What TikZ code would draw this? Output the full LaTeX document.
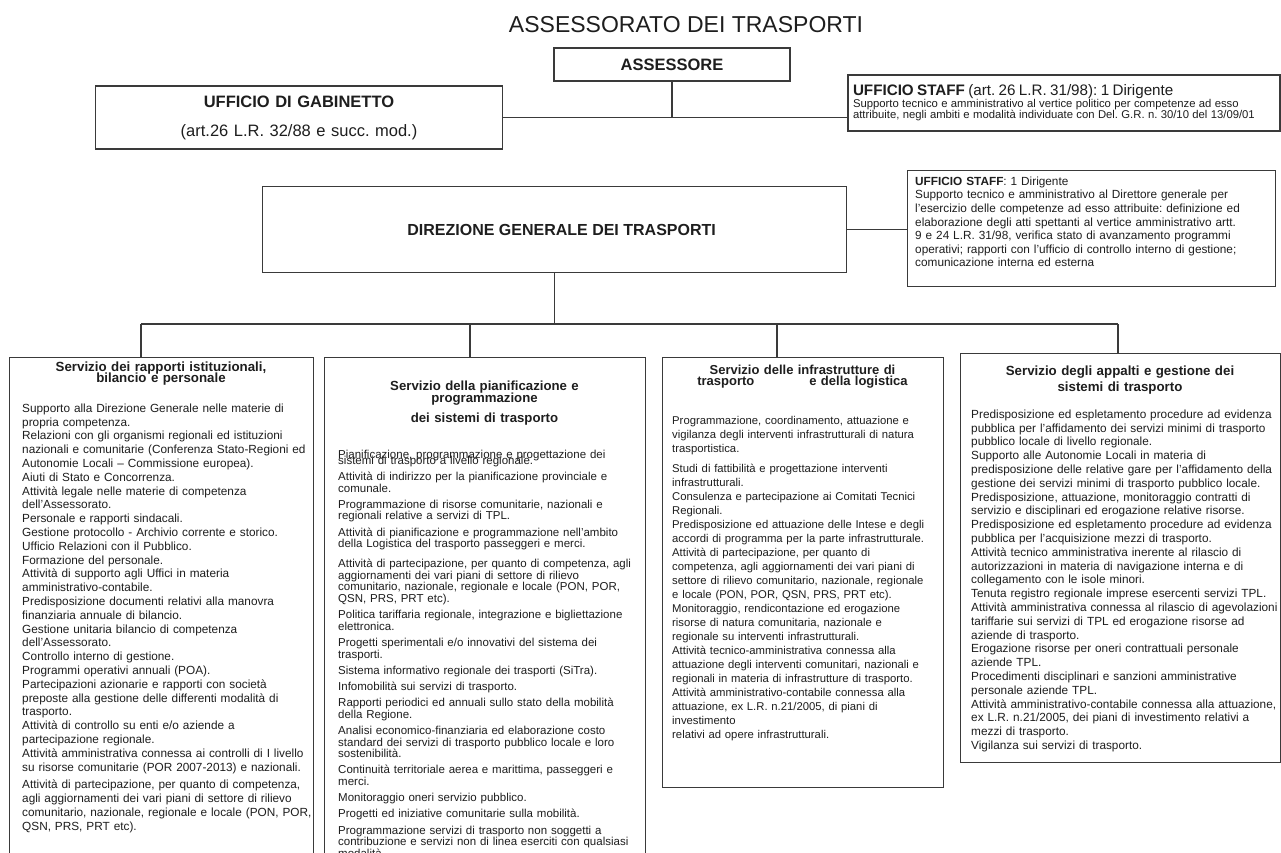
\documentclass[tikz,border=0pt]{standalone}
\usepackage{fontspec}
\setmainfont{Liberation Sans}
\frenchspacing
\definecolor{lc}{HTML}{3A3A3A}
\definecolor{tc}{HTML}{1E1E1E}
\newcommand{\bodyfont}[2]{\fontsize{#1}{#2}\selectfont\frenchspacing\parindent=0pt\lineskiplimit=-20pt\relax}
\newcommand{\headfont}[2]{\fontsize{#1}{#2}\selectfont\bfseries\frenchspacing\parindent=0pt\lineskiplimit=-20pt\relax}
\begin{document}
\begin{tikzpicture}[x=1pt,y=-1pt,
  box/.style={draw=lc, line width=1.2pt, inner sep=0pt, fill=white, text=tc},
  conn/.style={draw=lc, line width=1.2pt},
  txt/.style={inner sep=0pt, text=tc, anchor=north west, align=left},
  head/.style={inner sep=0pt, text=tc, anchor=north, align=center}]
\useasboundingbox[fill=white] (0,0) rectangle (1281,853);

% title
\node[inner sep=0pt, text=tc, font=\fontsize{23}{26}\selectfont] (title) at (686,25) {ASSESSORATO DEI TRASPORTI};

% top level
\node[box, minimum width=236pt, minimum height=33pt, font=\headfont{16.5}{19}] (ass) at (672,64.5) {ASSESSORE};
\node[box, minimum width=407pt, minimum height=63pt, align=center, text width=400pt, font=\fontsize{16.5}{19}\selectfont\frenchspacing] (gab) at (299,117.5)
  {\textbf{UFFICIO DI GABINETTO}\\[10pt](art.26 L.R. 32/88 e succ. mod.)};
\node[box, minimum width=432pt, minimum height=56pt, align=left, text width=422pt, font=\frenchspacing] (st1) at (1064,103)
  {{\fontsize{15.2}{17}\selectfont\textbf{UFFICIO STAFF} (art. 26 L.R. 31/98): 1 Dirigente\par}\vspace{0pt}
   {\fontsize{11.3}{11.5}\selectfont Supporto tecnico e amministrativo al vertice politico per competenze ad esso\\
   attribuite, negli ambiti e modalità individuate con Del. G.R. n. 30/10 del 13/09/01\par}};

% direzione
\node[box, anchor=north west, minimum width=584pt, minimum height=86pt, font=\headfont{16}{19}] (dir) at (262,186) {\hspace*{14pt}DIREZIONE GENERALE DEI TRASPORTI};
\node[box, anchor=north west, minimum width=368pt, minimum height=116pt] (st2) at (907,170) {};
\node[txt, text width=360pt, font=\bodyfont{11.8}{13.6}] (st2t) at (915,176.6)
  {\textbf{UFFICIO STAFF}: 1 Dirigente\\
   Supporto tecnico e amministrativo al Direttore generale per\\
   l’esercizio delle competenze ad esso attribuite: definizione ed\\
   elaborazione degli atti spettanti al vertice amministrativo artt.\\
   9 e 24 L.R. 31/98, verifica stato di avanzamento programmi\\
   operativi; rapporti con l’ufficio di controllo interno di gestione;\\
   comunicazione interna ed esterna};

% column boxes
\node[box, anchor=north west, minimum width=304pt, minimum height=505pt] (c1) at (9,357) {};
\node[box, anchor=north west, minimum width=321pt, minimum height=505pt] (c2) at (324,357) {};
\node[box, anchor=north west, minimum width=281pt, minimum height=430pt] (c3) at (662,357) {};
\node[box, anchor=north west, minimum width=320pt, minimum height=409pt] (c4) at (960,353) {};

% connectors
\coordinate (k1) at (141,324);
\coordinate (k2) at (470,324);
\coordinate (k3) at (777,324);
\coordinate (k4) at (1118,324);
\draw[conn] (ass.south) -- (ass.south |- gab.east);
\draw[conn] (gab.east) -- (gab.east -| st1.west);
\draw[conn] (dir.east) -- (dir.east -| st2.west);
\draw[conn] (dir.south) -- (dir.south |- k1);
\draw[conn] (k1) -- (k4);
\draw[conn] (k1) -- (k1 |- c1.north);
\draw[conn] (k2) -- (k2 |- c2.north);
\draw[conn] (k3) -- (k3 |- c3.north);
\draw[conn] (k4) -- (k4 |- c4.north);

% column 1
\node[head, text width=300pt, font=\headfont{13.3}{11}] (c1h) at (161,362)
  {Servizio dei rapporti istituzionali,\\bilancio e personale};
\node[txt, text width=300pt, font=\bodyfont{11.8}{13.8}] (c1b) at (22,403.6)
  {Supporto alla Direzione Generale nelle materie di\\
   propria competenza.\\
   Relazioni con gli organismi regionali ed istituzioni\\
   nazionali e comunitarie (Conferenza Stato-Regioni ed\\
   Autonomie Locali – Commissione europea).\\
   Aiuti di Stato e Concorrenza.\\
   Attività legale nelle materie di competenza\\
   dell’Assessorato.\\
   Personale e rapporti sindacali.\\
   Gestione protocollo - Archivio corrente e storico.\\
   Ufficio Relazioni con il Pubblico.\\
   Formazione del personale.\\
   Attività di supporto agli Uffici in materia\\
   amministrativo-contabile.\\
   Predisposizione documenti relativi alla manovra\\
   finanziaria annuale di bilancio.\\
   Gestione unitaria bilancio di competenza\\
   dell’Assessorato.\\
   Controllo interno di gestione.\\
   Programmi operativi annuali (POA).\\
   Partecipazioni azionarie e rapporti con società\\
   preposte alla gestione delle differenti modalità di\\
   trasporto.\\
   Attività di controllo su enti e/o aziende a\\
   partecipazione regionale.\\
   Attività amministrativa connessa ai controlli di I livello\\
   su risorse comunitarie (POR 2007-2013) e nazionali.\\[4pt]
   Attività di partecipazione, per quanto di competenza,\\
   agli aggiornamenti dei vari piani di settore di rilievo\\
   comunitario, nazionale, regionale e locale (PON, POR,\\
   QSN, PRS, PRT etc).};

% column 2
\node[head, text width=315pt, font=\headfont{13.2}{12}] (c2h) at (484.5,380.5)
  {Servizio della pianificazione e\\programmazione\\[8pt]dei sistemi di trasporto};
\node[txt, text width=310pt, font=\bodyfont{11.5}{11.6}] (c2b) at (338,449.7)
  {Pianificazione, programmazione e progettazione dei\\[-5.6pt]
   sistemi di trasporto a livello regionale.\\[4.6pt]
   Attività di indirizzo per la pianificazione provinciale e\\
   comunale.\\[4.6pt]
   Programmazione di risorse comunitarie, nazionali e\\
   regionali relative a servizi di TPL.\\[4.6pt]
   Attività di pianificazione e programmazione nell’ambito\\
   della Logistica del trasporto passeggeri e merci.\\[8.5pt]
   Attività di partecipazione, per quanto di competenza, agli\\
   aggiornamenti dei vari piani di settore di rilievo\\
   comunitario, nazionale, regionale e locale (PON, POR,\\
   QSN, PRS, PRT etc).\\[4.6pt]
   Politica tariffaria regionale, integrazione e bigliettazione\\
   elettronica.\\[4.6pt]
   Progetti sperimentali e/o innovativi del sistema dei\\
   trasporti.\\[4.6pt]
   Sistema informativo regionale dei trasporti (SiTra).\\[4.6pt]
   Infomobilità sui servizi di trasporto.\\[4.6pt]
   Rapporti periodici ed annuali sullo stato della mobilità\\
   della Regione.\\[4.6pt]
   Analisi economico-finanziaria ed elaborazione costo\\
   standard dei servizi di trasporto pubblico locale e loro\\
   sostenibilità.\\[4.6pt]
   Continuità territoriale aerea e marittima, passeggeri e\\
   merci.\\[4.6pt]
   Monitoraggio oneri servizio pubblico.\\[4.6pt]
   Progetti ed iniziative comunitarie sulla mobilità.\\[4.6pt]
   Programmazione servizi di trasporto non soggetti a\\
   contribuzione e servizi non di linea eserciti con qualsiasi\\
   modalità.};

% column 3
\node[head, text width=278pt, font=\headfont{13}{11}] (c3h) at (802.5,364.5)
  {Servizio delle infrastrutture di\\trasporto\hspace*{55pt}e della logistica};
\node[txt, text width=300pt, font=\bodyfont{11.3}{14}] (c3b) at (672,415.8)
  {Programmazione, coordinamento, attuazione e\\
   vigilanza degli interventi infrastrutturali di natura\\
   trasportistica.\\[6pt]
   Studi di fattibilità e progettazione interventi\\
   infrastrutturali.\\
   Consulenza e partecipazione ai Comitati Tecnici\\
   Regionali.\\
   Predisposizione ed attuazione delle Intese e degli\\
   accordi di programma per la parte infrastrutturale.\\
   Attività di partecipazione, per quanto di\\
   competenza, agli aggiornamenti dei vari piani di\\
   settore di rilievo comunitario, nazionale, regionale\\
   e locale (PON, POR, QSN, PRS, PRT etc).\\
   Monitoraggio, rendicontazione ed erogazione\\
   risorse di natura comunitaria, nazionale e\\
   regionale su interventi infrastrutturali.\\
   Attività tecnico-amministrativa connessa alla\\
   attuazione degli interventi comunitari, nazionali e\\
   regionali in materia di infrastrutture di trasporto.\\
   Attività amministrativo-contabile connessa alla\\
   attuazione, ex L.R. n.21/2005, di piani di\\
   investimento\\
   relativi ad opere infrastrutturali.};

% column 4
\node[head, text width=316pt, font=\headfont{13.3}{16}] (c4h) at (1120,366)
  {Servizio degli appalti e gestione dei\\sistemi di trasporto};
\node[txt, text width=330pt, font=\bodyfont{11.8}{13.8}] (c4b) at (971,409.6)
  {Predisposizione ed espletamento procedure ad evidenza\\
   pubblica per l’affidamento dei servizi minimi di trasporto\\
   pubblico locale di livello regionale.\\
   Supporto alle Autonomie Locali in materia di\\
   predisposizione delle relative gare per l’affidamento della\\
   gestione dei servizi minimi di trasporto pubblico locale.\\
   Predisposizione, attuazione, monitoraggio contratti di\\
   servizio e disciplinari ed erogazione relative risorse.\\
   Predisposizione ed espletamento procedure ad evidenza\\
   pubblica per l’acquisizione mezzi di trasporto.\\
   Attività tecnico amministrativa inerente al rilascio di\\
   autorizzazioni in materia di navigazione interna e di\\
   collegamento con le isole minori.\\
   Tenuta registro regionale imprese esercenti servizi TPL.\\
   Attività amministrativa connessa al rilascio di agevolazioni\\
   tariffarie sui servizi di TPL ed erogazione risorse ad\\
   aziende di trasporto.\\
   Erogazione risorse per oneri contrattuali personale\\
   aziende TPL.\\
   Procedimenti disciplinari e sanzioni amministrative\\
   personale aziende TPL.\\
   Attività amministrativo-contabile connessa alla attuazione,\\
   ex L.R. n.21/2005, dei piani di investimento relativi a\\
   mezzi di trasporto.\\
   Vigilanza sui servizi di trasporto.};
\end{tikzpicture}
\end{document}
